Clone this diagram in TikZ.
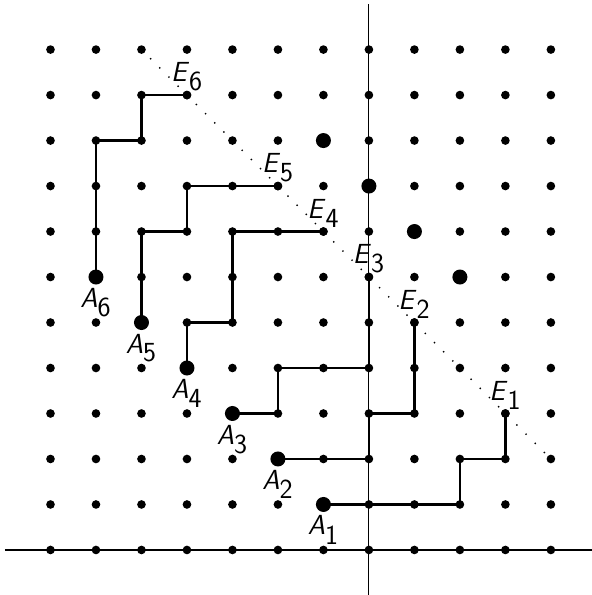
\documentclass[tikz,border=0pt]{standalone}
\begin{document}
\begin{tikzpicture}[x=1cm,y=1cm,
  dot/.style={circle,fill=black,inner sep=0pt,minimum size=0.19cm},
  bigdot/.style={circle,fill=black,inner sep=0pt,minimum size=0.33cm},
  walk/.style={line width=1.6pt},
  axis/.style={line width=0.7pt},
  diag/.style={line width=1.2pt,line cap=round,dash pattern=on 0pt off 8.1pt},
  lab/.style={font=\LARGE,inner sep=1pt}]
\useasboundingbox (-8.11,-0.99) rectangle (4.9,12.09);
\coordinate (axL) at (-8,0);
\coordinate (axR) at (4.9,0);
\coordinate (axB) at (0,-0.99);
\coordinate (axT) at (0,12);
\draw[axis] (axL) -- (axR);
\draw[axis] (axB) -- (axT);
% grid
\foreach \x in {-7,...,4} {
  \foreach \y in {0,...,11} {
    \pgfmathtruncatemacro\i{\x+7}
    \node[dot] (g\i-\y) at (\x,\y) {};
  }
}
% start points
\node[bigdot,label={[lab,label distance=1pt]below:$\textsf{\textit{A}}_{\textsf{1}}$}] (A1) at (-1,1) {};
\node[bigdot,label={[lab,label distance=1pt]below:$\textsf{\textit{A}}_{\textsf{2}}$}] (A2) at (-2,2) {};
\node[bigdot,label={[lab,label distance=1pt]below:$\textsf{\textit{A}}_{\textsf{3}}$}] (A3) at (-3,3) {};
\node[bigdot,label={[lab,label distance=1pt]below:$\textsf{\textit{A}}_{\textsf{4}}$}] (A4) at (-4,4) {};
\node[bigdot,label={[lab,label distance=1pt]below:$\textsf{\textit{A}}_{\textsf{5}}$}] (A5) at (-5,5) {};
\node[bigdot,label={[lab,label distance=1pt]below:$\textsf{\textit{A}}_{\textsf{6}}$}] (A6) at (-6,6) {};
% other big dots
\node[bigdot] (B1) at (-1,9) {};
\node[bigdot] (B2) at (0,8) {};
\node[bigdot] (B3) at (1,7) {};
\node[bigdot] (B4) at (2,6) {};
% end points
\node[dot,label={[lab,label distance=-1.5pt]above:$\textsf{\textit{E}}_{\textsf{1}}$}] (E1) at (3,3) {};
\node[dot,label={[lab,label distance=-1.5pt]above:$\textsf{\textit{E}}_{\textsf{2}}$}] (E2) at (1,5) {};
\node[dot,label={[lab,label distance=-1.5pt]above:$\textsf{\textit{E}}_{\textsf{3}}$}] (E3) at (0,6) {};
\node[dot,label={[lab,label distance=-1.5pt]above:$\textsf{\textit{E}}_{\textsf{4}}$}] (E4) at (-1,7) {};
\node[dot,label={[lab,label distance=-1.5pt]above:$\textsf{\textit{E}}_{\textsf{5}}$}] (E5) at (-2,8) {};
\node[dot,label={[lab,label distance=-1.5pt]above:$\textsf{\textit{E}}_{\textsf{6}}$}] (E6) at (-4,10) {};
% diagonal
\draw[diag] (g2-11.center) -- (g11-2.center);
% paths
\draw[walk] (A1.center) -| (g9-2.center) -| (E1.center);
\draw[walk] (A2.center) -| (g7-3.center) -| (E2.center);
\draw[walk] (A3.center) -| (g5-4.center) -| (E3.center);
\draw[walk] (A4.center) |- (g4-5.center) |- (E4.center);
\draw[walk] (A5.center) |- (g3-7.center) |- (E5.center);
\draw[walk] (A6.center) |- (g2-9.center) |- (E6.center);
\end{tikzpicture}
\end{document}
